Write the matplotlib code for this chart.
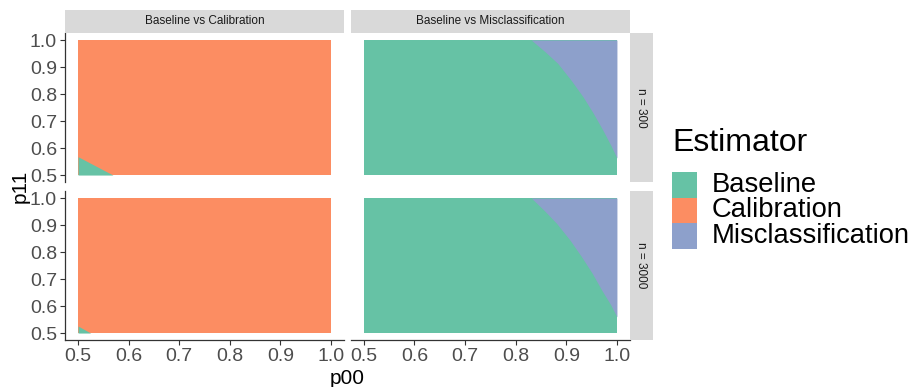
import matplotlib
matplotlib.use("Agg")
import matplotlib.pyplot as plt
from matplotlib.patches import Rectangle

plt.rcParams['font.family'] = ['Liberation Sans', 'DejaVu Sans']

# ---------------- data ----------------
categories = ["Baseline", "Calibration", "Misclassification"]
colors = ["#66C2A5", "#FC8D62", "#8DA0CB"]
col_labels = ["Baseline vs Calibration", "Baseline vs Misclassification"]
row_labels = ["n = 300", "n = 3000"]
ticks = [0.5, 0.6, 0.7, 0.8, 0.9, 1.0]
tick_labels = ["0.5", "0.6", "0.7", "0.8", "0.9", "1.0"]

# Baseline vs Calibration: Baseline wins below the boundary line (p00 -> p11)
calib_p00 = {"n = 300": [0.5, 0.569], "n = 3000": [0.5, 0.525]}
calib_p11 = {"n = 300": [0.568, 0.5], "n = 3000": [0.526, 0.5]}

# Baseline vs Misclassification: Misclassification wins right of boundary (p11 -> p00)
mis_p11 = {"n = 300": [0.563, 0.61, 0.667, 0.73, 0.79, 0.85, 0.914, 0.957, 1.0],
           "n = 3000": [0.56, 0.607, 0.659, 0.722, 0.783, 0.845, 0.906, 0.953, 1.0]}
mis_p00 = {"n = 300": [1.0, 0.988, 0.972, 0.953, 0.933, 0.910, 0.883, 0.858, 0.831],
           "n = 3000": [1.0, 0.987, 0.970, 0.951, 0.930, 0.907, 0.881, 0.857, 0.831]}

# ---------------- layout ----------------
W, H = 911, 387
fig = plt.figure(figsize=(W / 100, H / 100), dpi=100)

def ax_at(x0, y0, x1, y1):
    return fig.add_axes([x0 / W, (H - y1) / H, (x1 - x0) / W, (y1 - y0) / H])

col_x = [(65.4, 343.7), (351.0, 629.6)]
row_y = [(33.3, 181.8), (191.3, 339.8)]

lo, hi = 0.475, 1.025
axis_col = "#333333"
tick_col = "#4D4D4D"

for r, rlab in enumerate(row_labels):
    for c, clab in enumerate(col_labels):
        x0, x1 = col_x[c]
        y0, y1 = row_y[r]
        ax = ax_at(x0, y0, x1, y1)
        ax.set_xlim(lo, hi)
        ax.set_ylim(lo, hi)
        for s in ax.spines.values():
            s.set_visible(False)
        if c == 0:
            ax.add_patch(Rectangle((0.5, 0.5), 0.5, 0.5, color=colors[1], lw=0))
            ax.fill_between(calib_p00[rlab], 0.5, calib_p11[rlab],
                            color=colors[0], lw=0)
        else:
            ax.add_patch(Rectangle((0.5, 0.5), 0.5, 0.5, color=colors[0], lw=0))
            ax.fill_betweenx(mis_p11[rlab], mis_p00[rlab], 1.0,
                             color=colors[2], lw=0)
        ax.set_xticks(ticks)
        ax.set_yticks(ticks)
        ax.tick_params(length=3.6, width=0.8, color=axis_col, pad=2.5,
                       labelsize=14, labelcolor=tick_col)
        if c == 0:
            ax.spines['left'].set_visible(True)
            ax.spines['left'].set_color(axis_col)
            ax.spines['left'].set_linewidth(0.9)
            ax.set_yticklabels(tick_labels)
        else:
            ax.tick_params(axis='y', left=False, labelleft=False)
        if r == 1:
            ax.spines['bottom'].set_visible(True)
            ax.spines['bottom'].set_color(axis_col)
            ax.spines['bottom'].set_linewidth(0.9)
            ax.set_xticklabels(tick_labels)
        else:
            ax.tick_params(axis='x', bottom=False, labelbottom=False)

        # top strips
        if r == 0:
            sx = ax_at(x0, 9.5, x1, 32.5)
            sx.set_facecolor("#D9D9D9")
            sx.set_xticks([]); sx.set_yticks([])
            for s in sx.spines.values():
                s.set_visible(False)
            sx.text(0.5, 0.5, clab, ha='center', va='center', fontsize=8.5,
                    color="#1A1A1A", transform=sx.transAxes)
        # right strips
        if c == 1:
            sx = ax_at(630.0, y0, 652.5, y1)
            sx.set_facecolor("#D9D9D9")
            sx.set_xticks([]); sx.set_yticks([])
            for s in sx.spines.values():
                s.set_visible(False)
            sx.text(0.5, 0.5, rlab, ha='center', va='center', fontsize=8.5,
                    rotation=-90, color="#1A1A1A", transform=sx.transAxes)

# axis titles
fig.text((65.4 + 629.6) / 2 / W, 1 - 378 / H, "p00", ha='center', va='center',
         fontsize=15, color='black')
fig.text(20 / W, 1 - 186.5 / H, "p11", ha='center', va='center',
         fontsize=15, color='black', rotation=90)

# legend
fig.text(672 / W, 1 - 143 / H, "Estimator", ha='left', va='center',
         fontsize=23, color='black')
key_top = 172.0
key_h = 25.5
for i, (cat, colr) in enumerate(zip(categories, colors)):
    ky = key_top + i * key_h
    kax = ax_at(672, ky, 697, ky + key_h)
    kax.set_xlim(0, 1); kax.set_ylim(0, 1)
    kax.add_patch(Rectangle((0, 0), 1, 1, color=colr, lw=0))
    kax.axis('off')
    fig.text(712 / W, 1 - (ky + key_h / 2) / H, cat, ha='left', va='center',
             fontsize=19.7, color='black')

fig.savefig("out.png", dpi=100, facecolor='white')
